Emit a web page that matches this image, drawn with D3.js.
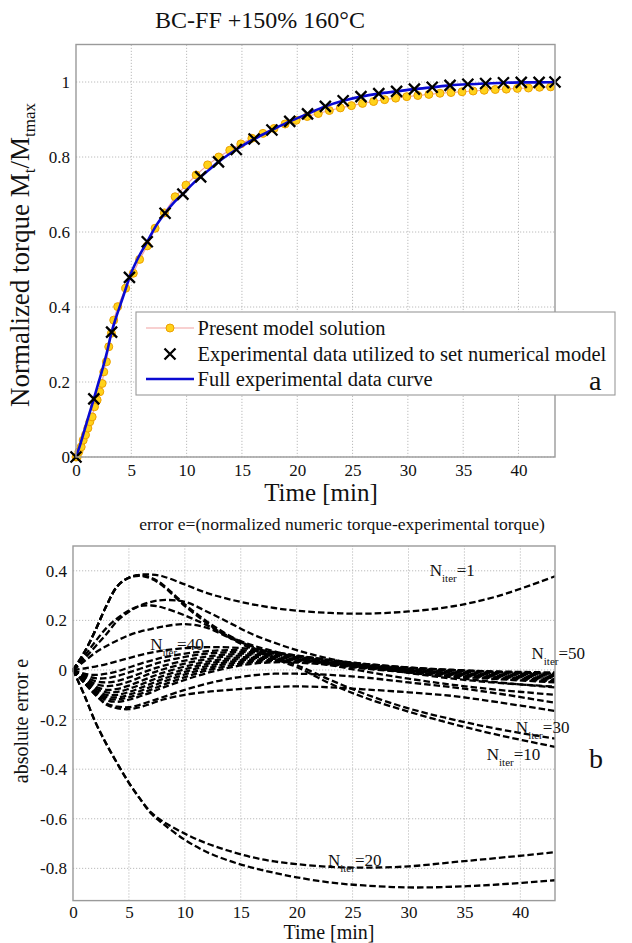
<!DOCTYPE html>
<html><head><meta charset="utf-8">
<script src="https://cdn.jsdelivr.net/npm/d3@7"></script>
<style>
body{margin:0;background:#fff;}
svg{display:block;font-family:"Liberation Serif","Times New Roman",serif;}
</style></head><body>
<svg id="fig" width="632" height="943"></svg>
<script>
// ---------- panel a: normalized torque ----------
const xTicks = [0, 5, 10, 15, 20, 25, 30, 35, 40];
const torqueTicks = [0, 0.2, 0.4, 0.6, 0.8, 1];
const torqueTickLabels = ["0", "0.2", "0.4", "0.6", "0.8", "1"];

// full experimental curve
const expTime = [0, 0.4, 0.8, 1.2, 1.61, 2.0, 2.4, 2.8, 3.22, 3.6, 4.0, 4.4, 4.83, 5.6, 6.44, 7.2, 8.05, 8.8, 9.66, 10.5, 11.27, 12.0, 12.88, 14.49, 16.1, 17.71, 19.32, 20.93, 22.54, 24.15, 25.76, 27.37, 28.98, 30.59, 32.2, 33.81, 35.42, 37.03, 38.64, 40.25, 41.86, 43.3];
const expTorque = [0, 0.035, 0.075, 0.115, 0.155, 0.195, 0.235, 0.28, 0.333, 0.37, 0.405, 0.44, 0.479, 0.53, 0.574, 0.615, 0.65, 0.677, 0.701, 0.727, 0.747, 0.765, 0.787, 0.82, 0.848, 0.872, 0.895, 0.915, 0.935, 0.95, 0.961, 0.969, 0.975, 0.981, 0.986, 0.991, 0.994, 0.996, 0.998, 0.999, 0.999, 1.0];

// experimental points used to set the numerical model
const fitTime = [0, 1.61, 3.22, 4.83, 6.44, 8.05, 9.66, 11.27, 12.88, 14.49, 16.1, 17.71, 19.32, 20.93, 22.54, 24.15, 25.76, 27.37, 28.98, 30.59, 32.2, 33.81, 35.42, 37.03, 38.64, 40.25, 41.86, 43.3];
const fitTorque = [0, 0.155, 0.333, 0.479, 0.574, 0.65, 0.701, 0.747, 0.787, 0.82, 0.848, 0.872, 0.895, 0.915, 0.935, 0.95, 0.961, 0.969, 0.975, 0.981, 0.986, 0.991, 0.994, 0.996, 0.998, 0.999, 0.999, 1.0];

// present model solution
const modelTime = [0, 0.12, 0.26, 0.47, 0.65, 0.86, 1.07, 1.25, 1.46, 1.67, 1.91, 2.15, 2.36, 2.51, 2.75, 2.96, 3.2, 3.41, 3.77, 4.49, 5.18, 5.75, 6.44, 7.15, 7.99, 8.96, 9.94, 10.86, 11.9, 12.9, 13.9, 14.9, 15.9, 16.9, 17.9, 18.9, 19.9, 20.9, 21.9, 22.9, 23.9, 24.9, 25.9, 26.9, 27.9, 28.9, 29.9, 30.9, 31.9, 32.9, 33.9, 34.9, 35.9, 36.9, 37.9, 38.9, 39.9, 40.9, 41.9, 42.9];
const modelTorque = [0, 0.001, 0.014, 0.027, 0.045, 0.059, 0.077, 0.094, 0.107, 0.134, 0.152, 0.174, 0.196, 0.227, 0.254, 0.294, 0.33, 0.365, 0.401, 0.45, 0.49, 0.527, 0.563, 0.61, 0.651, 0.694, 0.725, 0.752, 0.779, 0.8, 0.818, 0.835, 0.85, 0.863, 0.876, 0.888, 0.898, 0.908, 0.916, 0.924, 0.931, 0.937, 0.943, 0.948, 0.953, 0.957, 0.961, 0.964, 0.967, 0.97, 0.972, 0.974, 0.976, 0.978, 0.98, 0.981, 0.983, 0.984, 0.986, 0.987];

// ---------- panel b: absolute error for the iteration runs ----------
const errTicks = [-0.8, -0.6, -0.4, -0.2, 0, 0.2, 0.4];
const errTickLabels = ["-0.8", "-0.6", "-0.4", "-0.2", "0", "0.2", "0.4"];
const errTime = [0, 1, 2, 3, 4, 5, 6, 7, 8, 10, 12, 14, 16, 18, 20, 23, 26, 30, 34, 38, 43.1];

const errIter1  = [0, 0.07, 0.16, 0.26, 0.34, 0.372, 0.384, 0.385, 0.378, 0.345, 0.31, 0.285, 0.265, 0.25, 0.239, 0.23, 0.227, 0.236, 0.257, 0.298, 0.378];
const errIter30 = [0, 0.07, 0.16, 0.26, 0.34, 0.372, 0.382, 0.372, 0.345, 0.265, 0.195, 0.138, 0.092, 0.052, 0.02, -0.04, -0.095, -0.155, -0.2, -0.238, -0.277];
const errIter10 = [0, 0.07, 0.16, 0.26, 0.34, 0.372, 0.38, 0.368, 0.34, 0.258, 0.188, 0.13, 0.085, 0.045, 0.012, -0.055, -0.11, -0.168, -0.218, -0.262, -0.31];
const errIter20a = [0, -0.1, -0.21, -0.3, -0.38, -0.455, -0.52, -0.575, -0.61, -0.66, -0.7, -0.73, -0.755, -0.772, -0.783, -0.794, -0.797, -0.792, -0.775, -0.758, -0.735];
const errIter20b = [0, -0.1, -0.21, -0.3, -0.38, -0.455, -0.52, -0.58, -0.618, -0.685, -0.735, -0.77, -0.797, -0.818, -0.836, -0.857, -0.869, -0.877, -0.874, -0.865, -0.848];
const errRunB1 = [0, 0.045, 0.095, 0.145, 0.2, 0.235, 0.26, 0.275, 0.282, 0.275, 0.235, 0.19, 0.145, 0.11, 0.08, 0.045, 0.018, -0.012, -0.035, -0.052, -0.067];
const errRunB2 = [0, 0.055, 0.115, 0.17, 0.21, 0.24, 0.258, 0.26, 0.252, 0.22, 0.18, 0.135, 0.1, 0.075, 0.05, 0.02, -0.005, -0.035, -0.06, -0.08, -0.1];
const errRunC  = [0, 0.035, 0.07, 0.097, 0.12, 0.14, 0.155, 0.165, 0.175, 0.185, 0.17, 0.13, 0.095, 0.066, 0.05, 0.03, 0.012, -0.01, -0.03, -0.05, -0.07];
const errIter40 = [0, 0.006, 0.014, 0.024, 0.036, 0.048, 0.06, 0.07, 0.078, 0.088, 0.092, 0.091, 0.085, 0.072, 0.058, 0.04, 0.025, 0.01, 0, -0.008, -0.015];
const errIter50 = [0, -0.015, -0.02, -0.015, -0.005, 0.01, 0.025, 0.038, 0.05, 0.066, 0.076, 0.08, 0.078, 0.07, 0.058, 0.04, 0.025, 0.01, 0, -0.006, -0.01];
const errRunE2 = [0, -0.02, -0.033, -0.033, -0.024, -0.01, 0.005, 0.02, 0.033, 0.053, 0.066, 0.072, 0.072, 0.066, 0.055, 0.038, 0.022, 0.008, -0.002, -0.009, -0.015];
const errRunE3 = [0, -0.025, -0.045, -0.05, -0.044, -0.03, -0.014, 0.002, 0.016, 0.038, 0.054, 0.063, 0.066, 0.062, 0.052, 0.035, 0.02, 0.005, -0.006, -0.013, -0.02];
const errRunE4 = [0, -0.03, -0.056, -0.065, -0.06, -0.047, -0.03, -0.013, 0.002, 0.026, 0.044, 0.055, 0.06, 0.057, 0.048, 0.032, 0.017, 0.002, -0.01, -0.017, -0.024];
const errRunE5 = [0, -0.035, -0.066, -0.08, -0.076, -0.063, -0.046, -0.028, -0.012, 0.014, 0.034, 0.047, 0.053, 0.052, 0.045, 0.03, 0.015, 0, -0.012, -0.02, -0.028];
const errRunE6 = [0, -0.04, -0.074, -0.09, -0.088, -0.076, -0.06, -0.042, -0.025, 0.003, 0.025, 0.04, 0.048, 0.048, 0.042, 0.028, 0.013, -0.002, -0.015, -0.024, -0.032];
const errRunE7 = [0, -0.045, -0.082, -0.1, -0.1, -0.089, -0.073, -0.055, -0.037, -0.008, 0.016, 0.033, 0.043, 0.045, 0.04, 0.027, 0.012, -0.004, -0.017, -0.027, -0.036];
const errRunE8 = [0, -0.048, -0.088, -0.108, -0.11, -0.1, -0.085, -0.067, -0.049, -0.018, 0.007, 0.026, 0.037, 0.041, 0.037, 0.025, 0.01, -0.006, -0.02, -0.03, -0.04];
const errRunE9 = [0, -0.05, -0.092, -0.115, -0.118, -0.11, -0.096, -0.079, -0.061, -0.029, -0.002, 0.018, 0.031, 0.036, 0.034, 0.022, 0.008, -0.008, -0.022, -0.034, -0.045];
const errRunE10 = [0, -0.052, -0.096, -0.122, -0.128, -0.12, -0.106, -0.09, -0.072, -0.04, -0.012, 0.01, 0.025, 0.031, 0.03, 0.02, 0.006, -0.01, -0.025, -0.037, -0.05];
const errRunF1 = [0, -0.05, -0.1, -0.135, -0.148, -0.15, -0.14, -0.125, -0.11, -0.08, -0.055, -0.035, -0.022, -0.015, -0.015, -0.02, -0.03, -0.05, -0.07, -0.095, -0.132];
const errRunF2 = [0, -0.05, -0.1, -0.14, -0.155, -0.158, -0.15, -0.135, -0.12, -0.1, -0.088, -0.08, -0.073, -0.068, -0.066, -0.07, -0.078, -0.09, -0.105, -0.13, -0.165];

const errRuns = [errIter1, errIter30, errIter10, errIter20a, errIter20b, errRunB1, errRunB2, errRunC,
  errIter40, errIter50, errRunE2, errRunE3, errRunE4, errRunE5, errRunE6, errRunE7, errRunE8, errRunE9, errRunE10,
  errRunF1, errRunF2];

// iteration annotations: iterations, time and error at the text baseline
const iterLabelN = ["1", "40", "50", "30", "10", "20"];
const iterLabelTime = [31.9, 6.9, 41.0, 39.6, 37.0, 22.8];
const iterLabelErr = [0.38, 0.08, 0.045, -0.255, -0.363, -0.79];

// ---------- drawing ----------
const svg = d3.select("#fig");
const gridColor = "#b4b4b4", frameColor = "#9a9a9a", ink = "#111";

function panelFrame(g, x, y, yTicks, yLabels, xPad) {
  const [x0, x1] = x.range(), [y0, y1] = y.range();
  const grid = g.append("g").attr("stroke", gridColor).attr("stroke-width", 0.9).attr("stroke-dasharray", "1.2,1.8");
  grid.selectAll("line.vx").data(xTicks.filter(d => d > 0)).join("line")
    .attr("x1", d => x(d)).attr("x2", d => x(d)).attr("y1", y0).attr("y2", y1);
  grid.selectAll("line.hy").data(yTicks).join("line")
    .attr("x1", x0).attr("x2", x1).attr("y1", d => y(d)).attr("y2", d => y(d));
  const ax = g.append("g").attr("transform", `translate(0,${y0})`)
    .call(d3.axisBottom(x).tickValues(xTicks).tickSize(0).tickPadding(xPad));
  ax.select(".domain").remove();
  ax.selectAll("text").attr("font-family", "Liberation Serif").attr("font-size", 17).attr("fill", ink);
  const ay = g.append("g").attr("transform", `translate(${x0},0)`)
    .call(d3.axisLeft(y).tickValues(yTicks).tickSize(0).tickPadding(6).tickFormat((d, i) => yLabels[i]));
  ay.select(".domain").remove();
  ay.selectAll("text").attr("font-family", "Liberation Serif").attr("font-size", 17).attr("fill", ink);
}
function panelBorder(g, x, y) {
  const [x0, x1] = x.range(), [y0, y1] = y.range();
  g.append("rect").attr("x", x0).attr("y", y1).attr("width", x1 - x0).attr("height", y0 - y1)
    .attr("fill", "none").attr("stroke", frameColor).attr("stroke-width", 1.4);
}

// ----- panel a -----
const xa = d3.scaleLinear().domain([0, 43.3]).range([76, 555]);
const ya = d3.scaleLinear().domain([0, 1.1]).range([457, 44.5]);
const ga = svg.append("g");
panelFrame(ga, xa, ya, torqueTicks, torqueTickLabels, 7);

const modelPts = modelTime.map((t, i) => [t, modelTorque[i]]);
const expPts = expTime.map((t, i) => [t, expTorque[i]]);
const fitPts = fitTime.map((t, i) => [t, fitTorque[i]]);

ga.append("path").datum(modelPts)
  .attr("d", d3.line().x(d => xa(d[0])).y(d => ya(d[1])))
  .attr("fill", "none").attr("stroke", "#f2a2a2").attr("stroke-width", 1.2);
ga.selectAll("circle.m").data(modelPts).join("circle")
  .attr("cx", d => xa(d[0])).attr("cy", d => ya(d[1])).attr("r", 4)
  .attr("fill", "#ffd21a").attr("stroke", "#eda000").attr("stroke-width", 1);
ga.append("path").datum(expPts)
  .attr("d", d3.line().curve(d3.curveMonotoneX).x(d => xa(d[0])).y(d => ya(d[1])))
  .attr("fill", "none").attr("stroke", "#0a0ad2").attr("stroke-width", 2.6);
const crossPath = (cx, cy, s) => `M${cx - s},${cy - s}L${cx + s},${cy + s}M${cx - s},${cy + s}L${cx + s},${cy - s}`;
ga.selectAll("path.fx").data(fitPts).join("path")
  .attr("d", d => crossPath(xa(d[0]), ya(d[1]), 5.5))
  .attr("stroke", "#000").attr("stroke-width", 2.3).attr("fill", "none");
panelBorder(ga, xa, ya);

// legend
const lg = svg.append("g");
lg.append("rect").attr("x", 136).attr("y", 312).attr("width", 479).attr("height", 83)
  .attr("fill", "#fff").attr("stroke", frameColor).attr("stroke-width", 1.1);
const legendLabels = ["Present model solution", "Experimental data utilized to set numerical model", "Full experimental data curve"];
const rowY = [328, 354, 379];
lg.append("line").attr("x1", 146).attr("x2", 194).attr("y1", rowY[0]).attr("y2", rowY[0]).attr("stroke", "#f2a2a2").attr("stroke-width", 1.2);
lg.append("circle").attr("cx", 170).attr("cy", rowY[0]).attr("r", 4).attr("fill", "#ffd21a").attr("stroke", "#eda000");
lg.append("path").attr("d", crossPath(170, rowY[1], 5.5)).attr("stroke", "#000").attr("stroke-width", 2.3);
lg.append("line").attr("x1", 146).attr("x2", 194).attr("y1", rowY[2]).attr("y2", rowY[2]).attr("stroke", "#0a0ad2").attr("stroke-width", 2.6);
lg.selectAll("text").data(legendLabels).join("text")
  .attr("x", 197.5).attr("y", (d, i) => rowY[i] + 7).attr("font-size", 20.5).attr("fill", ink).text(d => d);

// titles and labels for panel a
svg.append("text").attr("x", 260).attr("y", 28).attr("text-anchor", "middle").attr("font-size", 24).attr("fill", ink)
  .text("BC-FF +150% 160°C");
svg.append("text").attr("x", 321).attr("y", 501).attr("text-anchor", "middle").attr("font-size", 25).attr("fill", ink)
  .text("Time [min]");
const yl = svg.append("text").attr("transform", "translate(29,255) rotate(-90)").attr("text-anchor", "middle")
  .attr("font-size", 27).attr("fill", ink);
yl.append("tspan").text("Normalized torque M");
yl.append("tspan").attr("font-size", 17).attr("dy", 6).text("t");
yl.append("tspan").attr("dy", -6).text("/M");
yl.append("tspan").attr("font-size", 17).attr("dy", 6).text("tmax");
svg.append("text").attr("x", 589).attr("y", 390).attr("font-size", 28).attr("fill", ink).text("a");

// ----- panel b -----
const xb = d3.scaleLinear().domain([0, 43.1]).range([73, 555]);
const yb = d3.scaleLinear().domain([-0.93, 0.5]).range([900.6, 546]);
const gb = svg.append("g");
panelFrame(gb, xb, yb, errTicks, errTickLabels, 5);

const errLine = d3.line().curve(d3.curveCatmullRom.alpha(0.5)).x((d, i) => xb(errTime[i])).y(d => yb(d));
gb.append("g").selectAll("path").data(errRuns).join("path")
  .attr("d", errLine).attr("fill", "none").attr("stroke", "#000").attr("stroke-width", 2.3)
  .attr("stroke-dasharray", "6.5,3");
panelBorder(gb, xb, yb);

const lab = gb.append("g").attr("font-size", 17).attr("fill", ink);
iterLabelN.forEach((n, i) => {
  const t = lab.append("text").attr("x", xb(iterLabelTime[i])).attr("y", yb(iterLabelErr[i]));
  t.append("tspan").text("N");
  t.append("tspan").attr("font-size", 11).attr("dy", 6).text("iter");
  t.append("tspan").attr("dy", -6).text("=" + n);
});

svg.append("text").attr("x", 342).attr("y", 530).attr("text-anchor", "middle").attr("font-size", 17.6).attr("fill", ink)
  .text("error e=(normalized numeric torque-experimental torque)");
svg.append("text").attr("x", 329).attr("y", 939).attr("text-anchor", "middle").attr("font-size", 20).attr("fill", ink)
  .text("Time [min]");
svg.append("text").attr("transform", "translate(28,721) rotate(-90)").attr("text-anchor", "middle")
  .attr("font-size", 20).attr("fill", ink).text("absolute error e");
svg.append("text").attr("x", 589).attr("y", 768).attr("font-size", 28).attr("fill", ink).text("b");
</script>
</body></html>
